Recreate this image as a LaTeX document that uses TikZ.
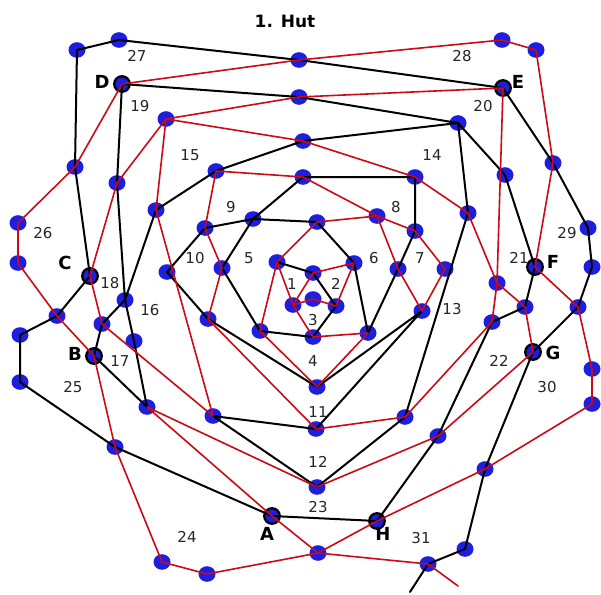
\documentclass[tikz,border=0pt]{standalone}
\usepackage{fontspec}
\setmainfont{DejaVu Sans}
\begin{document}
\begin{tikzpicture}[x=1pt,y=-1pt]
\definecolor{dotblue}{RGB}{30,30,222}
\definecolor{lred}{RGB}{204,10,20}
\tikzset{
  blk/.style={line width=2pt, black, line join=round, line cap=round},
  rd/.style={line width=1.6pt, lred, line join=round, line cap=round},
  num/.style={font=\fontsize{15}{15}\selectfont, text=black!85, inner sep=0pt},
  lett/.style={font=\bfseries\fontsize{18}{18}\selectfont, inner sep=0pt},
  ttl/.style={font=\bfseries\fontsize{17}{17}\selectfont, inner sep=0pt}
}
\useasboundingbox (0,0) rectangle (601,594);
\fill[white] (0,0) rectangle (601,594);
% points
\coordinate (p1) at (77,50);
\coordinate (p2) at (119,40);
\coordinate (p3) at (299,60);
\coordinate (p4) at (502,40);
\coordinate (p5) at (536,50);
\coordinate (D) at (122,84);
\coordinate (E) at (503,88);
\coordinate (p6) at (299,97);
\coordinate (p7) at (166,119);
\coordinate (p8) at (458,123);
\coordinate (p9) at (303,141);
\coordinate (p10) at (75,167);
\coordinate (p11) at (117,183);
\coordinate (p12) at (553,163);
\coordinate (p13) at (216,171);
\coordinate (p14) at (303,177);
\coordinate (p15) at (415,177);
\coordinate (p16) at (505,175);
\coordinate (p17) at (156,210);
\coordinate (p18) at (468,213);
\coordinate (p19) at (377,216);
\coordinate (p20) at (18,223);
\coordinate (p21) at (205,228);
\coordinate (p22) at (253,219);
\coordinate (p23) at (317,222);
\coordinate (p24) at (415,231);
\coordinate (p25) at (588,228);
\coordinate (p26) at (18,263);
\coordinate (C) at (90,276);
\coordinate (p27) at (167,272);
\coordinate (p28) at (222,268);
\coordinate (p29) at (277,262);
\coordinate (p30) at (313,273);
\coordinate (p31) at (354,263);
\coordinate (p32) at (398,269);
\coordinate (p33) at (445,269);
\coordinate (F) at (535,267);
\coordinate (p34) at (592,267);
\coordinate (p35) at (497,283);
\coordinate (p36) at (125,300);
\coordinate (p37) at (293,305);
\coordinate (p38) at (313,299);
\coordinate (p39) at (336,306);
\coordinate (p40) at (57,316);
\coordinate (p41) at (102,324);
\coordinate (p42) at (208,319);
\coordinate (p43) at (422,311);
\coordinate (p44) at (492,322);
\coordinate (p45) at (525,307);
\coordinate (p46) at (578,307);
\coordinate (p47) at (20,335);
\coordinate (p48) at (134,341);
\coordinate (p49) at (260,331);
\coordinate (p50) at (313,337);
\coordinate (p51) at (368,333);
\coordinate (B) at (94,356);
\coordinate (G) at (533,352);
\coordinate (p52) at (592,369);
\coordinate (p53) at (20,382);
\coordinate (p54) at (317,387);
\coordinate (p55) at (592,404);
\coordinate (p56) at (147,407);
\coordinate (p57) at (213,416);
\coordinate (p58) at (405,417);
\coordinate (p59) at (316,429);
\coordinate (p60) at (438,436);
\coordinate (p61) at (115,447);
\coordinate (p62) at (485,469);
\coordinate (p63) at (317,487);
\coordinate (A) at (272,516);
\coordinate (H) at (377,521);
\coordinate (p64) at (465,549);
\coordinate (p65) at (318,553);
\coordinate (p66) at (428,564);
\coordinate (p67) at (162,562);
\coordinate (p68) at (207,574);
\coordinate (eb) at (410,592);
\coordinate (er) at (458,586);
% dots
\foreach \p in {p1,p2,p3,p4,p5,p6,p7,p8,p9,p10,p11,p12,p13,p14,p15,p16,p17,p18,p19,p20,p21,p22,p23,p24,p25,p26,p27,p28,p29,p30,p31,p32,p33,p34,p35,p36,p37,p38,p39,p40,p41,p42,p43,p44,p45,p46,p47,p48,p49,p50,p51,p52,p53,p54,p55,p56,p57,p58,p59,p60,p61,p62,p63,p64,p65,p66,p67,p68}
  \fill[dotblue] (\p) ellipse [x radius=8.5pt, y radius=7.8pt];
\foreach \p in {A,B,C,D,E,F,G,H}
  \filldraw[fill=dotblue, draw=black, line width=2.2pt] (\p) circle [radius=7.8pt];
% black lines
\draw[blk] (p10) -- (p1) -- (p2) -- (p3) -- (E) -- (p12) -- (p25) -- (p34) -- (p46) -- (G) -- (p62) -- (p64) -- (p66) -- (eb);
\draw[blk] (p10) -- (C) -- (p40) -- (p47) -- (p53) -- (p61) -- (A) -- (H) -- (p60) -- (p44) -- (p45) -- (F) -- (p16) -- (p8);
\draw[blk] (p11) -- (D) -- (p6) -- (p8) -- (p9) -- (p13) -- (p17) -- (p36) -- (p11);
\draw[blk] (p36) -- (p48) -- (p56) -- (B) -- (p41) -- (p36);
\draw[blk] (p8) -- (p18) -- (p58) -- (p63) -- (p57) -- (p59) -- (p43) -- (p54) -- (p42) -- (p27) -- (p21) -- (p22) -- (p23) -- (p31) -- (p51) -- (p32) -- (p24) -- (p15) -- (p14) -- (p22) -- (p28) -- (p49) -- (p50) -- (p39) -- (p30) -- (p29);
% red lines
\draw[rd] (p3) -- (p4) -- (p5) -- (p12) -- (F) -- (p46) -- (p52) -- (p55) -- (p62) -- (H) -- (p65) -- (p68) -- (p67) -- (p61) -- (B) -- (p40) -- (p26) -- (p20) -- (p10) -- (D) -- (p3);
\draw[rd] (p7) -- (p6) -- (E) -- (p35) -- (p44) -- (p58) -- (p59) -- (p42) -- (p28) -- (p21) -- (p13) -- (p14) -- (p19) -- (p32) -- (p43) -- (p33) -- (p24) -- (p19) -- (p23) -- (p29) -- (p49) -- (p54) -- (p51) -- (p50) -- (p37) -- (p29);
\draw[rd] (p37) -- (p30) -- (p31) -- (p39) -- (p38) -- (p37);
\draw[rd] (p7) -- (p9) -- (p15) -- (p18) -- (p35) -- (p45) -- (G) -- (p60) -- (p63) -- (p56) -- (A) -- (p65) -- (p66) -- (er);
\draw[rd] (p17) -- (p7) -- (p11) -- (C) -- (p41) -- (p57) -- (p17);
% labels
\node[ttl] (title) at (285,21) {1. Hut};
\node[num] (n1) at (292,284) {1};
\node[num] (n2) at (336,284) {2};
\node[num] (n3) at (313,320) {3};
\node[num] (n4) at (313,361) {4};
\node[num] (n5) at (249,258) {5};
\node[num] (n6) at (374,258) {6};
\node[num] (n7) at (420,258) {7};
\node[num] (n8) at (396,207) {8};
\node[num] (n9) at (231,207) {9};
\node[num] (n10) at (195,258) {10};
\node[num] (n11) at (318,412) {11};
\node[num] (n12) at (318,462) {12};
\node[num] (n13) at (452,309) {13};
\node[num] (n14) at (432,155) {14};
\node[num] (n15) at (190,155) {15};
\node[num] (n16) at (150,310) {16};
\node[num] (n17) at (120,361) {17};
\node[num] (n18) at (110,283) {18};
\node[num] (n19) at (140,106) {19};
\node[num] (n20) at (483,106) {20};
\node[num] (n21) at (519,258) {21};
\node[num] (n22) at (499,361) {22};
\node[num] (n23) at (318,507) {23};
\node[num] (n24) at (187,537) {24};
\node[num] (n25) at (73,387) {25};
\node[num] (n26) at (43,233) {26};
\node[num] (n27) at (137,56) {27};
\node[num] (n28) at (462,56) {28};
\node[num] (n29) at (567,233) {29};
\node[num] (n30) at (547,387) {30};
\node[num] (n31) at (421,538) {31};
\node[lett] (lA) at (267,534) {A};
\node[lett] (lB) at (75,354) {B};
\node[lett] (lC) at (65,263) {C};
\node[lett] (lD) at (102,82) {D};
\node[lett] (lE) at (518,82) {E};
\node[lett] (lF) at (553,262) {F};
\node[lett] (lG) at (553,353) {G};
\node[lett] (lH) at (383,534) {H};
\end{tikzpicture}
\end{document}
